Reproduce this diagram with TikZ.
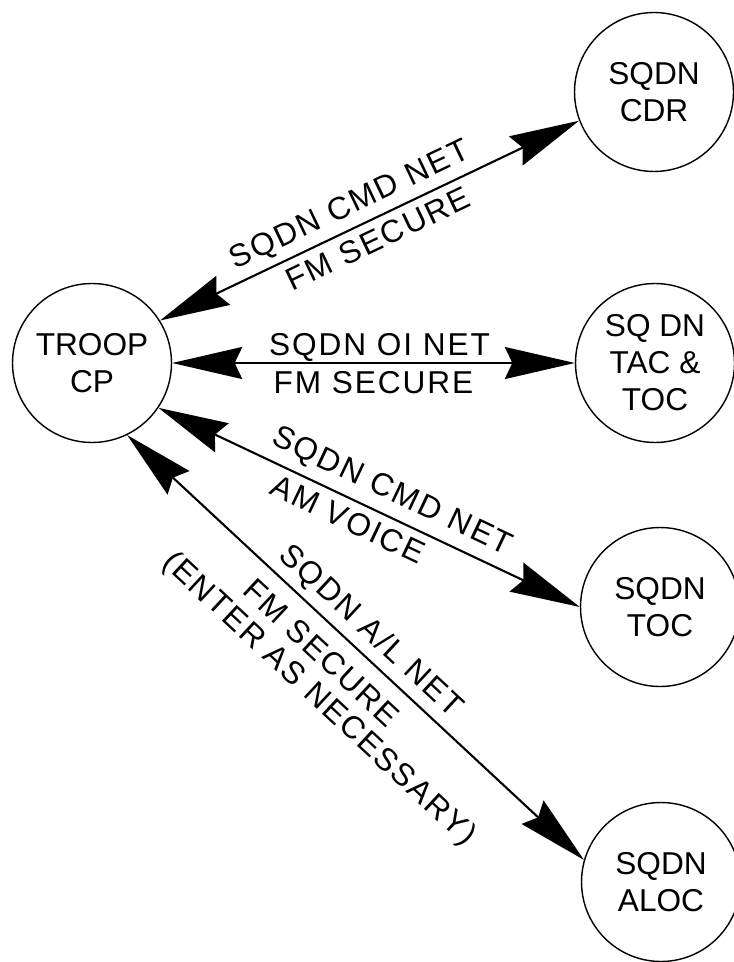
\documentclass[tikz,border=0pt]{standalone}
\usepackage{fontspec}
\setmainfont{Liberation Sans}
\newfontfamily\labelfont[LetterSpace=6]{Liberation Sans}
\usetikzlibrary{arrows.meta,positioning}

\tikzset{
	station/.style={draw, circle, line width=0.8pt, minimum size=3.18cm, inner sep=0pt, align=center, font=\fontsize{18}{21}\selectfont},
	net/.style={line width=1.2pt, {Stealth[length=1.4cm,width=0.64cm,inset=0.15cm]}-{Stealth[length=1.4cm,width=0.64cm,inset=0.15cm]}},
	netlabel/.style={sloped, inner sep=0pt, text height=13pt, text depth=0pt, font=\labelfont\fontsize{18}{21}\selectfont}
}

\begin{document}
\begin{tikzpicture}[x=0.02cm, y=-0.02cm]
	\useasboundingbox (0,0) rectangle (733,962);
	\node[station] (troop) at (92,363) {TROOP\\CP};
	\node[station] (cdr) at (654,92) {SQDN\\CDR};
	\node[station] (tac) at (655,363) {SQ DN\\TAC \&\\TOC};
	\node[station] (toc) at (660,607) {SQDN\\TOC};
	\node[station] (aloc) at (661,882) {SQDN\\ALOC};

	\draw[net] (troop.32.4) -- (cdr.201.3)
		node[netlabel, pos=0.476, above=7pt] (cmdfm) {SQDN CMD NET}
		node[netlabel, pos=0.5, below=4pt] (cmdfmsec) {FM SECURE};
	\draw[net] (troop.east) -- (tac.west)
		node[netlabel, pos=0.515, above=3.5pt] (oi) {SQDN OI NET}
		node[netlabel, pos=0.5, below=4pt] (oisec) {FM SECURE};
	\draw[net] (troop.-34.3) -- (toc.west)
		node[netlabel, pos=0.53, above=8pt] (cmdam) {SQDN CMD NET}
		node[netlabel, pos=0.47, below=4pt] (cmdamvoice) {AM VOICE};
	\draw[net] (troop.-64.4) -- (aloc.164.4)
		node[netlabel, pos=0.5, above=7pt] (al) {SQDN A/L NET}
		node[netlabel, pos=0.466, below=8pt] (alsec) {FM SECURE}
		node[netlabel, pos=0.513, below=27pt] (alenter) {(ENTER AS NECESSARY)};
\end{tikzpicture}
\end{document}
